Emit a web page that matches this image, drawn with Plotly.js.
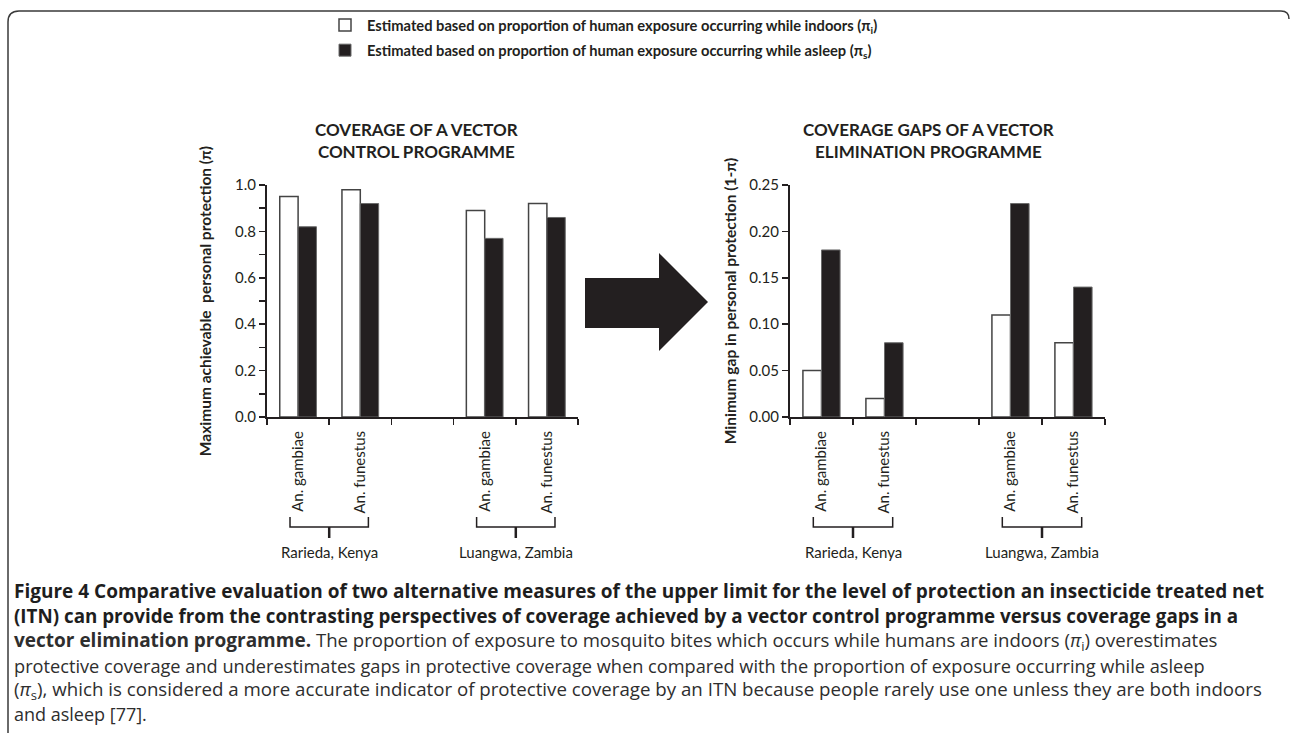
<!DOCTYPE html>
<html>
<head>
<meta charset="utf-8">
<script src="https://cdn.plot.ly/plotly-3.0.1.min.js"></script>
<style>
html,body{margin:0;padding:0;background:#fff;}
#chart{width:1290px;height:733px;}
</style>
</head>
<body>
<div id="chart"></div>
<script>
// ---- data ----
const categoryIds = ["g1", "f1", "gap", "g2", "f2"];
const categoryLabels = ["An. gambiae", "An. funestus", "", "An. gambiae", "An. funestus"];
const coverageIndoors = [0.95, 0.98, null, 0.89, 0.92];
const coverageAsleep = [0.82, 0.92, null, 0.77, 0.86];
const gapIndoors = [0.05, 0.02, null, 0.11, 0.08];
const gapAsleep = [0.18, 0.08, null, 0.23, 0.14];
const groupLabels = ["Rarieda, Kenya", "Luangwa, Zambia"];
const groupFirst = [0, 3];
const groupLast = [1, 4];
const seriesNames = [
  "Estimated based on proportion of human exposure occurring while indoors (π<sub>i</sub>)",
  "Estimated based on proportion of human exposure occurring while asleep (π<sub>s</sub>)"
];
const panelTitles = ["COVERAGE OF A VECTOR<br>CONTROL PROGRAMME", "COVERAGE GAPS OF A VECTOR<br>ELIMINATION PROGRAMME"];
const yTitles = ["Maximum achievable  personal protection (π)", "Minimum gap in personal protection (1-π)"];
const captionLines = [
  "<b>Figure 4 Comparative evaluation of two alternative measures of the upper limit for the level of protection an insecticide treated net</b>",
  "<b>(ITN) can provide from the contrasting perspectives of coverage achieved by a vector control programme versus coverage gaps in a</b>",
  "<span style=\"font-size:19px\"><b>vector elimination programme.</b></span> The proportion of exposure to mosquito bites which occurs while humans are indoors (<i>π</i><sub>i</sub>) overestimates",
  "protective coverage and underestimates gaps in protective coverage when compared with the proportion of exposure occurring while asleep",
  "(<i>π</i><sub>s</sub>), which is considered a more accurate indicator of protective coverage by an ITN because people rarely use one unless they are both indoors",
  "and asleep [77]."
];
const captionSizes = [19, 18.8, 18.6, 18.2, 18.7, 18];

// ---- styling ----
const W = 1290, H = 733;
const px = v => v / W;
const py = v => 1 - v / H;
const ink = "#231f20";
const chartFont = "Lato, 'Open Sans', sans-serif";
const capFont = "'Open Sans', sans-serif";

const whiteBar = {color: "#ffffff", line: {color: "#444444", width: 1.5}};
const blackBar = {color: ink, line: {color: "#6a6a6a", width: 1}};

const traces = [
  {type: "bar", x: categoryIds, y: coverageIndoors, name: seriesNames[0], marker: whiteBar, xaxis: "x", yaxis: "y", legendgroup: "i", hoverinfo: "y"},
  {type: "bar", x: categoryIds, y: coverageAsleep, name: seriesNames[1], marker: blackBar, xaxis: "x", yaxis: "y", legendgroup: "s", hoverinfo: "y"},
  {type: "bar", x: categoryIds, y: gapIndoors, name: seriesNames[0], marker: whiteBar, xaxis: "x2", yaxis: "y2", legendgroup: "i", showlegend: false, hoverinfo: "y"},
  {type: "bar", x: categoryIds, y: gapAsleep, name: seriesNames[1], marker: blackBar, xaxis: "x2", yaxis: "y2", legendgroup: "s", showlegend: false, hoverinfo: "y"}
];

const yDomain = [py(417), py(185)];
function xAxis(domain, anchor) {
  return {
    domain: domain, anchor: anchor, type: "category",
    categoryorder: "array", categoryarray: categoryIds,
    tickmode: "array", tickvals: categoryIds, ticktext: categoryLabels,
    tickson: "boundaries", ticks: "outside", ticklen: 6, tickwidth: 1.5, tickcolor: ink,
    tickangle: -90, ticklabelstandoff: 6, tickfont: {family: chartFont, size: 15, color: ink},
    showline: true, linecolor: ink, linewidth: 2, showgrid: false, zeroline: false,
    range: [-0.5, 4.5], fixedrange: true
  };
}
function yAxis(domain, anchor, range, dtick, fmt, title, standoff, minor) {
  const a = {
    domain: domain, anchor: anchor, range: range, dtick: dtick, tick0: 0, tickformat: fmt,
    ticks: "outside", ticklen: 6, tickwidth: 1.5, tickcolor: ink,
    tickfont: {family: chartFont, size: 15, color: ink},
    showline: true, linecolor: ink, linewidth: 2, showgrid: false, zeroline: false,
    title: {text: "<b>" + title + "</b>", font: {family: chartFont, size: 15.5, color: ink}, standoff: standoff},
    fixedrange: true
  };
  if (minor) a.minor = {dtick: minor, ticks: "outside", ticklen: 6, tickwidth: 1.5, tickcolor: ink, showgrid: false};
  return a;
}

const xDom1 = [px(267), px(578)];
const xDom2 = [px(790), px(1105)];

const annotations = [];
// panel titles
annotations.push({xref: "paper", yref: "paper", x: px(416), y: py(140), text: "<b>" + panelTitles[0] + "</b>", showarrow: false,
  font: {family: chartFont, size: 17, color: ink}, xanchor: "center", yanchor: "middle", align: "center"});
annotations.push({xref: "paper", yref: "paper", x: px(928), y: py(140), text: "<b>" + panelTitles[1] + "</b>", showarrow: false,
  font: {family: chartFont, size: 17, color: ink}, xanchor: "center", yanchor: "middle", align: "center"});

const shapes = [];
// group brackets + labels
["x", "x2"].forEach(ax => {
  groupLabels.forEach((lab, i) => {
    const a = groupFirst[i] - 0.13, b = groupLast[i] + 0.13, m = (groupFirst[i] + groupLast[i]) / 2;
    shapes.push({type: "path", xref: ax, yref: "paper",
      path: `M ${a},${py(517)} L ${a},${py(527)} L ${b},${py(527)} L ${b},${py(517)}`,
      line: {color: ink, width: 1.5}});
    shapes.push({type: "path", xref: ax, yref: "paper",
      path: `M ${m},${py(527)} L ${m},${py(538)}`,
      line: {color: ink, width: 2.5}});
    annotations.push({xref: ax, yref: "paper", x: m, y: py(552), text: lab, showarrow: false,
      font: {family: chartFont, size: 15, color: ink}, xanchor: "center", yanchor: "middle"});
  });
});

// big arrow between panels
const arrowPts = [[585, 278], [659, 278], [659, 253], [708, 302], [659, 351], [659, 328], [585, 328]];
shapes.push({type: "path", xref: "paper", yref: "paper",
  path: "M " + arrowPts.map(p => px(p[0]) + "," + py(p[1])).join(" L ") + " Z",
  fillcolor: ink, line: {width: 0}});

// frame
shapes.push({type: "path", xref: "paper", yref: "paper",
  path: `M ${px(8)},${py(733)} L ${px(8)},${py(22)} Q ${px(8)},${py(11)} ${px(19)},${py(11)} L ${px(1281)},${py(11)} Q ${px(1289)},${py(11)} ${px(1289)},${py(19)}`,
  line: {color: "#3a3a3a", width: 1.5}});

// caption
const capY = [591, 616, 641, 666, 690, 714];
captionLines.forEach((t, i) => {
  annotations.push({xref: "paper", yref: "paper", x: px(12), y: py(capY[i]), text: t, showarrow: false,
    xanchor: "left", yanchor: "middle", align: "left",
    font: {family: capFont, size: captionSizes[i], color: i < 2 ? "#1e1e1e" : "#2e2e2e"}});
});

const layout = {
  width: W, height: H,
  margin: {l: 0, r: 0, t: 0, b: 0},
  paper_bgcolor: "#ffffff", plot_bgcolor: "rgba(0,0,0,0)",
  barmode: "group", bargap: 0.41, bargroupgap: 0,
  showlegend: true,
  legend: {x: px(323), y: py(9), xanchor: "left", yanchor: "top", orientation: "v",
    traceorder: "grouped", tracegroupgap: 3, itemwidth: 34,
    font: {family: chartFont, size: 14.7, color: ink, weight: "bold"}, bgcolor: "rgba(0,0,0,0)"},
  xaxis: xAxis(xDom1, "y"),
  yaxis: yAxis(yDomain, "x", [0, 1], 0.2, ".1f", yTitles[0], 20, 0.1),
  xaxis2: xAxis(xDom2, "y2"),
  yaxis2: yAxis(yDomain, "x2", [0, 0.25], 0.05, ".2f", yTitles[1], 9, null),
  annotations: annotations,
  shapes: shapes
};

Plotly.newPlot("chart", traces, layout, {displayModeBar: false, staticPlot: true});
</script>
</body>
</html>
